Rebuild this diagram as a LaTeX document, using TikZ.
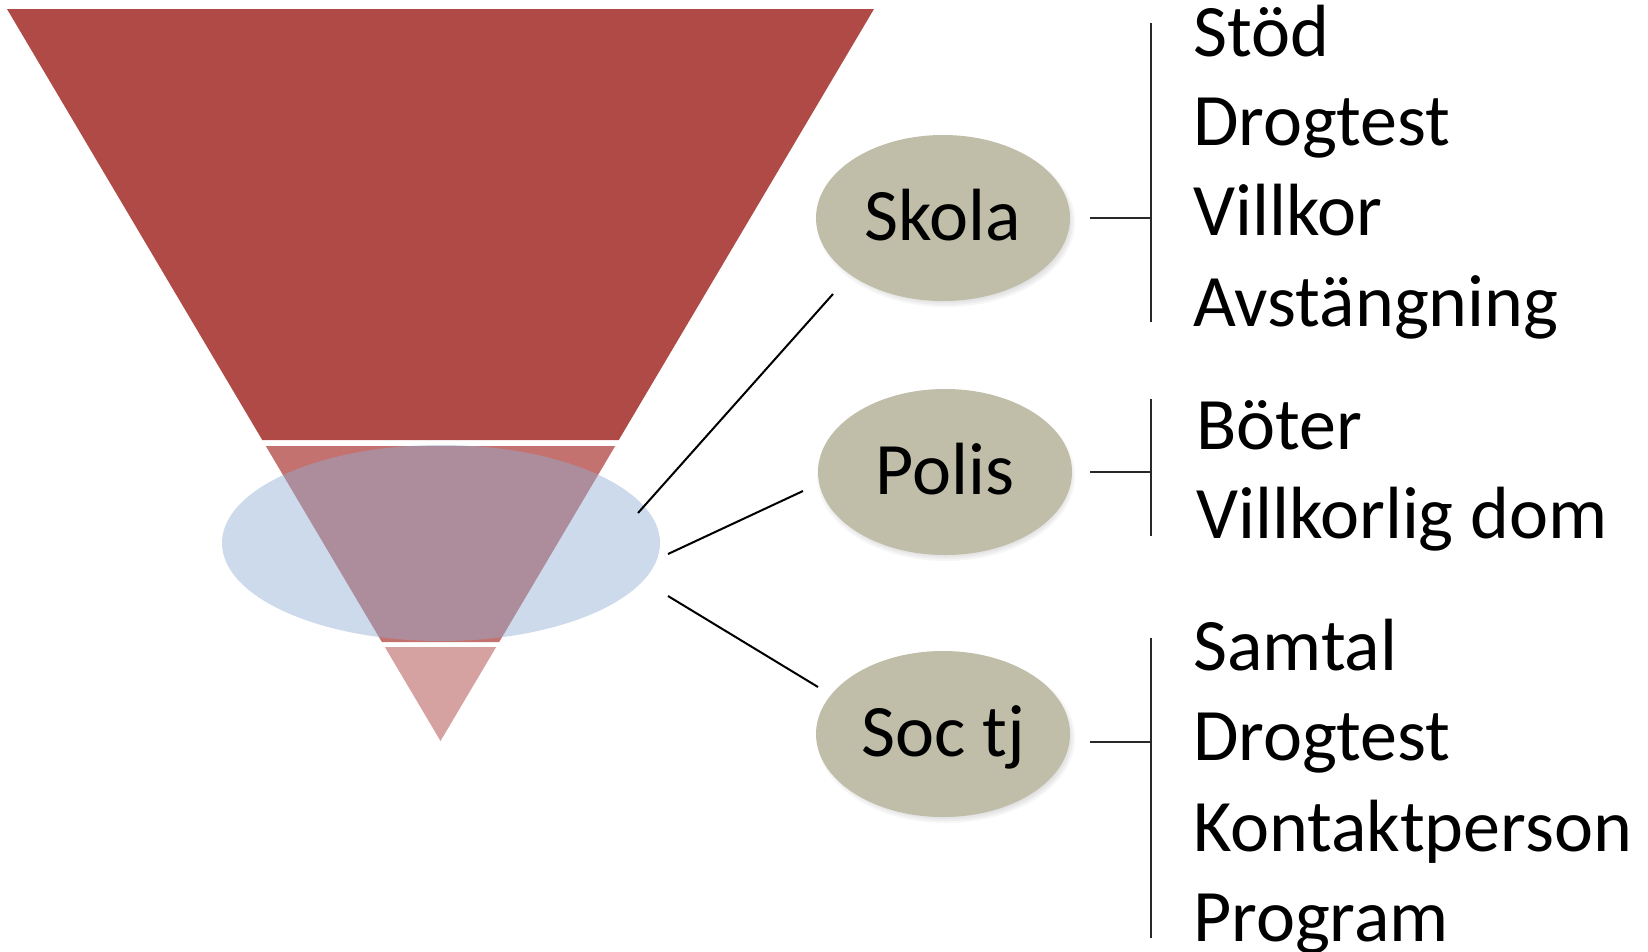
\documentclass[tikz,border=0pt]{standalone}
\usepackage{fontspec}
\setmainfont{Carlito}
\usetikzlibrary{shapes.geometric,calc}
\definecolor{bandA}{RGB}{175,74,71}
\definecolor{bandB}{RGB}{196,114,111}
\definecolor{bandC}{RGB}{214,161,161}
\definecolor{blueov}{RGB}{146,174,211}
\definecolor{khaki}{RGB}{192,189,168}
\definecolor{tickc}{RGB}{40,40,40}
\begin{document}
\begin{tikzpicture}[x=1pt,y=-1pt,
  org/.style={ellipse,fill=khaki,minimum width=254pt,minimum height=166pt,inner sep=0pt,
    font=\fontsize{74}{88}\selectfont,text height=45pt,text depth=0pt},
  item/.style={anchor=base west,inner sep=0pt,font=\fontsize{74}{90}\selectfont},
  conn/.style={line width=2pt,black},
  tick/.style={line width=1.6pt,tickc}]
\useasboundingbox (0,0) rectangle (1648,951);
% funnel
\fill[bandA] (7,9) -- (874,9) -- (618.75,440) -- (262.25,440) -- cycle;
\fill[bandB] (265.8,446) -- (615.2,446) -- (499.13,642) -- (381.87,642) -- cycle;
\fill[bandC] (384.83,647) -- (496.17,647) -- (440.5,741) -- cycle;
\fill[blueov,opacity=0.46] (441,543) ellipse [x radius=219pt, y radius=98pt];
% soft shadows
\foreach \cy in {218,472,734}{
  \foreach \r in {0,2,4,6}{
    \fill[black,opacity=0.035] (946,\cy+4) ellipse [x radius=123pt+\r pt, y radius=79pt+\r pt];
  }
}
% organisations
\node[org] (skola) at (943,218) {Skola};
\node[org] (polis) at (945,472) {Polis};
\node[org] (soc) at (943,734) {Soc tj};
% connectors
\coordinate (b1) at (638,513); \coordinate (s1) at (833,294);
\coordinate (b2) at (668,554); \coordinate (p1) at (803,491);
\coordinate (b3) at (668,596); \coordinate (t1) at (818,687);
\draw[conn] (b1) -- (s1);
\draw[conn] (b2) -- (p1);
\draw[conn] (b3) -- (t1);
% brackets
\coordinate (k1a) at (1090,218); \coordinate (k1b) at (1151,218);
\coordinate (v1a) at (1151,23); \coordinate (v1b) at (1151,322);
\coordinate (k2a) at (1090,472); \coordinate (k2b) at (1151,472);
\coordinate (v2a) at (1151,399); \coordinate (v2b) at (1151,536);
\coordinate (k3a) at (1090,742); \coordinate (k3b) at (1151,742);
\coordinate (v3a) at (1151,638); \coordinate (v3b) at (1151,938);
\draw[tick] (k1a) -- (k1b); \draw[tick] (v1a) -- (v1b);
\draw[tick] (k2a) -- (k2b); \draw[tick] (v2a) -- (v2b);
\draw[tick] (k3a) -- (k3b); \draw[tick] (v3a) -- (v3b);
% lists
\node[item] (i11) at (1193,56) {Stöd};
\node[item] (i12) at (1193,145) {Drogtest};
\node[item] (i13) at (1193,235) {Villkor};
\node[item] (i14) at (1193,326) {Avstängning};
\node[item] (i21) at (1196,449) {Böter};
\node[item] (i22) at (1196,538) {Villkorlig dom};
\node[item] (i31) at (1193,670) {Samtal};
\node[item] (i32) at (1193,760) {Drogtest};
\node[item] (i33) at (1193,851) {Kontaktperson};
\node[item] (i34) at (1193,941) {Program};
\end{tikzpicture}
\end{document}
